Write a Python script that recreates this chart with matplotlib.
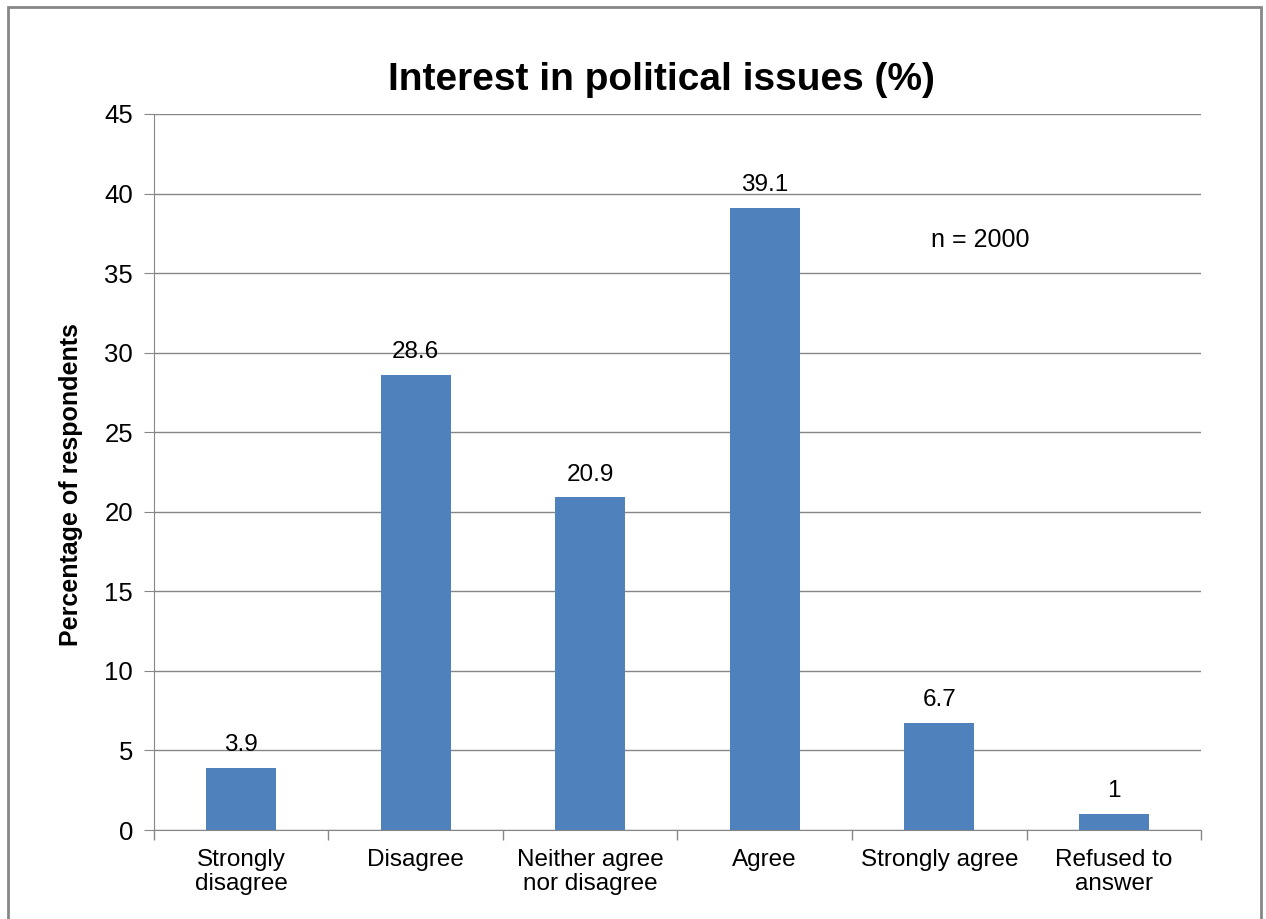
import matplotlib.pyplot as plt
from matplotlib.patches import Rectangle

plt.rcParams['font.family'] = ['Liberation Sans', 'DejaVu Sans']

categorias = ["Strongly\ndisagree", "Disagree", "Neither agree\nnor disagree",
              "Agree", "Strongly agree", "Refused to\nanswer"]
valores = [3.9, 28.6, 20.9, 39.1, 6.7, 1]
etiquetas = ["3.9", "28.6", "20.9", "39.1", "6.7", "1"]

fig = plt.figure(figsize=(12.66, 9.19), dpi=100)
ax = fig.add_axes([0.1216, 0.0968, 0.8271, 0.7792])

# marco gris alrededor del gráfico
fig.patches.append(Rectangle((8 / 1266, -0.01), (1261 - 8) / 1266, (912 + 0.01 * 919) / 919,
                             transform=fig.transFigure, fill=False,
                             edgecolor='#878787', linewidth=2))

x = range(len(categorias))
ax.bar(x, valores, width=0.4, color='#4F81BD', zorder=3)
for xi, v, t in zip(x, valores, etiquetas):
    ax.text(xi, v + 0.75, t, ha='center', va='bottom', fontsize=17.5)

ax.set_xlim(-0.5, len(categorias) - 0.5)
ax.set_ylim(0, 45)
ax.set_yticks(range(0, 46, 5))
ax.set_xticks(x)
ax.set_xticklabels(categorias, fontsize=17.5, linespacing=1.1)
ax.tick_params(axis='x', length=0, pad=14)
ax.set_xticks([i + 0.5 for i in range(-1, len(categorias))], minor=True)
ax.tick_params(axis='x', which='minor', length=7, color='#868686', width=1)
ax.tick_params(axis='y', labelsize=18.5, length=7, color='#868686', pad=8)
ax.grid(axis='y', color='#868686', linewidth=1, zorder=0)

for s in ['top', 'right']:
    ax.spines[s].set_visible(False)
for s in ['left', 'bottom']:
    ax.spines[s].set_color('#868686')

ax.set_ylabel("Percentage of respondents", fontsize=18, fontweight='bold')
ax.yaxis.set_label_coords(-0.068, 0.482)
ax.set_title("Interest in political issues (%)", fontsize=28, fontweight='bold',
             pad=17, x=0.485)
ax.text(3.95, 37.1, "n = 2000", fontsize=18, va='center')

fig.savefig("out.png", dpi=100)
